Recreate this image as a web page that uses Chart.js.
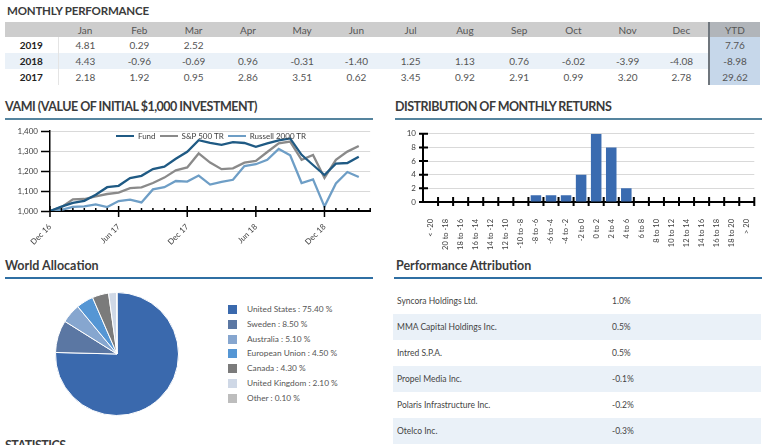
<!DOCTYPE html>
<html>
<head>
<meta charset="utf-8">
<script src="https://cdn.jsdelivr.net/npm/chart.js@4.4.1/dist/chart.umd.min.js"></script>
<style>
  body { margin: 0; width: 768px; height: 445px; overflow: hidden; background: #fff; position: relative; font-family: Lato, sans-serif; color: #444; }
  .title { position: absolute; font-weight: 700; font-size: 12.5px; line-height: 14px; color: #3b3b3b; white-space: nowrap; }
  .caps { letter-spacing: -0.5px; }
  .rule { position: absolute; height: 2px; }
  .box { position: absolute; }
  #perf { position: absolute; left: 5px; top: 22px; border-collapse: collapse; table-layout: fixed; width: 755px; font-size: 10px; }
  #perf td, #perf th { padding: 0; text-align: center; font-weight: 400; color: #555; }
  #perf th { height: 15px; background: #cdcdcd; }
  #perf td { height: 16px; }
  #perf td.yr { font-weight: 700; color: #222; border-right: 1px solid #e4e4e4; }
  #perf tr.alt td { background: #eaf1f8; }
  #perf .ytd { background: #c6d7ea !important; border-left: 2px solid #6f767d; }
  #perf th.ytd { background: #b1b5ba !important; }
  #vamiLegend { position: absolute; left: 50px; top: 131px; width: 322px; height: 10px; display: flex; justify-content: center; font-size: 8px; line-height: 10px; color: #404040; }
  #vamiLegend div { display: flex; align-items: center; margin: 0 2px; white-space: nowrap; }
  #vamiLegend i { display: inline-block; width: 18px; height: 2.5px; margin-right: 4px; }
  .leg { position: absolute; left: 228px; font-size: 8.3px; color: #555; white-space: nowrap; }
  .leg i { position: absolute; left: 0; top: 1px; width: 9px; height: 9px; }
  .leg span { position: absolute; left: 19px; top: 0; line-height: 11px; }
  .attr { position: absolute; left: 393px; width: 368px; height: 26px; font-size: 8.5px; color: #444; line-height: 26px; }
  .attr span { position: absolute; }
</style>
</head>
<body>

<div class="title" style="left:7px;top:4px;font-size:11.5px;letter-spacing:-0.2px">MONTHLY PERFORMANCE</div>
<table id="perf"></table>

<div class="title caps" style="left:5px;top:100px">VAMI (VALUE OF INITIAL $1,000 INVESTMENT)</div>
<div class="rule" style="left:5px;top:118px;width:368px;background:#55849e"></div>
<div class="box" style="left:0;top:122px"><canvas id="vami" width="380" height="135"></canvas></div>
<div id="vamiLegend"></div>

<div class="title caps" style="left:395px;top:100px">DISTRIBUTION OF MONTHLY RETURNS</div>
<div class="rule" style="left:395px;top:118px;width:367px;background:#55849e"></div>
<div class="box" style="left:390px;top:122px"><canvas id="dist" width="375" height="128"></canvas></div>

<div class="title" style="left:5px;top:259px">World Allocation</div>
<div class="rule" style="left:5px;top:277px;width:368px;background:#2f6fa3"></div>
<div class="box" style="left:55px;top:292px"><canvas id="alloc" width="124" height="124"></canvas></div>
<div id="allocLegend"></div>

<div class="title" style="left:396px;top:259px">Performance Attribution</div>
<div class="rule" style="left:394px;top:277px;width:368px;background:#2f6fa3"></div>
<div id="attrib"></div>

<div class="title caps" style="left:5px;top:439px">STATISTICS</div>

<script>
// monthly returns table
const months = ['Jan', 'Feb', 'Mar', 'Apr', 'May', 'Jun', 'Jul', 'Aug', 'Sep', 'Oct', 'Nov', 'Dec'];
const years = ['2019', '2018', '2017'];
const ret2019 = [4.81, 0.29, 2.52];
const ret2018 = [4.43, -0.96, -0.69, 0.96, -0.31, -1.40, 1.25, 1.13, 0.76, -6.02, -3.99, -4.08];
const ret2017 = [2.18, 1.92, 0.95, 2.86, 3.51, 0.62, 3.45, 0.92, 2.91, 0.99, 3.20, 2.78];
const ytd = [7.76, -8.98, 29.62];

// VAMI, Dec 16 .. Mar 19 (axis runs one month further)
const vamiMonths = ['Dec 16', 'Jan 17', 'Feb 17', 'Mar 17', 'Apr 17', 'May 17', 'Jun 17', 'Jul 17', 'Aug 17', 'Sep 17', 'Oct 17', 'Nov 17',
    'Dec 17', 'Jan 18', 'Feb 18', 'Mar 18', 'Apr 18', 'May 18', 'Jun 18', 'Jul 18', 'Aug 18', 'Sep 18', 'Oct 18', 'Nov 18',
    'Dec 18', 'Jan 19', 'Feb 19', 'Mar 19', 'Apr 19'];
const vamiSeries = ['Fund', 'S&P 500 TR', 'Russell 2000 TR'];
const vamiColors = ['#1f5a84', '#8a8a8a', '#6e9ec6'];
const fund = [1000, 1022, 1041, 1051, 1081, 1119, 1126, 1165, 1176, 1210, 1222, 1261, 1296,
    1354, 1341, 1331, 1344, 1340, 1321, 1338, 1353, 1363, 1281, 1230, 1180, 1237, 1240, 1271];
const sp500 = [1000, 1019, 1058, 1060, 1073, 1085, 1092, 1114, 1118, 1140, 1167, 1203, 1218,
    1288, 1242, 1209, 1213, 1242, 1251, 1295, 1338, 1347, 1256, 1280, 1166, 1256, 1297, 1325];
const russell = [1000, 1006, 1021, 1023, 1033, 1020, 1050, 1057, 1043, 1108, 1119, 1150, 1147,
    1177, 1132, 1146, 1156, 1225, 1234, 1256, 1310, 1279, 1140, 1158, 1022, 1138, 1195, 1170];

// distribution of monthly returns
const bins = ['< -20', '-20 to -18', '-18 to -16', '-16 to -14', '-14 to -12', '-12 to -10', '-10 to -8', '-8 to -6',
    '-6 to -4', '-4 to -2', '-2 to 0', '0 to 2', '2 to 4', '4 to 6', '6 to 8', '8 to 10', '10 to 12', '12 to 14',
    '14 to 16', '16 to 18', '18 to 20', '> 20'];
const binCounts = [0, 0, 0, 0, 0, 0, 0, 1, 1, 1, 4, 10, 8, 2, 0, 0, 0, 0, 0, 0, 0, 0];

// world allocation
const countries = ['United States', 'Sweden', 'Australia', 'European Union', 'Canada', 'United Kingdom', 'Other'];
const allocation = [75.40, 8.50, 5.10, 4.50, 4.30, 2.10, 0.10];
const allocColors = ['#3a69ad', '#5b77a3', '#86a6cf', '#5596d4', '#7b7b7b', '#cfd8e6', '#bdbdbd'];

// performance attribution
const holdings = ['Syncora Holdings Ltd.', 'MMA Capital Holdings Inc.', 'Intred S.P.A.', 'Propel Media Inc.',
    'Polaris Infrastructure Inc.', 'Otelco Inc.'];
const contribution = [1.0, 0.5, 0.5, -0.1, -0.2, -0.3];

Chart.defaults.font.family = 'Lato, sans-serif';
Chart.defaults.color = '#404040';
Chart.defaults.animation = false;

// ---- tables
const perf = document.getElementById( 'perf' );
let html = '<tr><th></th>' + months.map( m => '<th>' + m + '</th>' ).join( '' ) + '<th class="ytd">YTD</th></tr>';
[ ret2019, ret2018, ret2017 ].forEach( ( row, r ) => {
    html += '<tr' + ( r === 1 ? ' class="alt"' : '' ) + '><td class="yr">' + years[ r ] + '</td>';
    months.forEach( ( m, i ) => { html += '<td>' + ( row[ i ] !== undefined ? row[ i ].toFixed( 2 ) : '' ) + '</td>'; } );
    html += '<td class="ytd">' + ytd[ r ].toFixed( 2 ) + '</td></tr>';
} );
perf.innerHTML = '<colgroup><col style="width:53px">' + months.map( () => '<col style="width:54.25px">' ).join( '' ) + '<col style="width:51px"></colgroup>' + html;

const attrib = document.getElementById( 'attrib' );
holdings.forEach( ( h, i ) => {
    const d = document.createElement( 'div' );
    d.className = 'attr';
    d.style.top = ( 288 + i * 26 ) + 'px';
    if ( i % 2 ) d.style.background = '#eaf1f8';
    d.innerHTML = '<span style="left:4px">' + h + '</span><span style="left:219px">' + contribution[ i ].toFixed( 1 ) + '%</span>';
    attrib.append( d );
} );

const legend = document.getElementById( 'allocLegend' );
countries.forEach( ( c, i ) => {
    const d = document.createElement( 'div' );
    d.className = 'leg';
    d.style.top = ( 304 + i * 14.8 ) + 'px';
    d.innerHTML = '<i style="background:' + allocColors[ i ] + '"></i><span>' + c + ' : ' + allocation[ i ].toFixed( 2 ) + ' %</span>';
    legend.append( d );
} );

document.getElementById( 'vamiLegend' ).innerHTML = vamiSeries
    .map( ( s, i ) => '<div><i style="background:' + vamiColors[ i ] + '"></i>' + s.replace( '&', '&amp;' ) + '</div>' ).join( '' );

// ---- VAMI line chart
const vamiTicks = {
    id: 'vamiTicks',
    afterDraw( chart ) {
        const { ctx, scales: { x, y } } = chart;
        ctx.save();
        ctx.strokeStyle = '#000';
        ctx.lineWidth = 1.5;
        ctx.beginPath();
        vamiMonths.forEach( ( m, i ) => {
            const px = x.getPixelForValue( i );
            const major = i % 6 === 0;
            ctx.moveTo( px, y.bottom - ( major ? 5 : 3 ) );
            ctx.lineTo( px, y.bottom + ( major ? 6 : 0 ) );
        } );
        ctx.stroke();
        ctx.restore();
    }
};

const line = ( i, data ) => ( {
    label: vamiSeries[ i ], data, borderColor: vamiColors[ i ], backgroundColor: vamiColors[ i ],
    borderWidth: 2.3, pointRadius: 0, tension: 0, fill: false
} );

new Chart( document.getElementById( 'vami' ), {
    type: 'line',
    data: {
        labels: vamiMonths,
        datasets: [ line( 0, fund ), line( 1, sp500 ), line( 2, russell ) ]
    },
    options: {
        responsive: false,
        events: [],
        layout: { padding: { top: 9, right: 8, bottom: 0, left: 0 } },
        plugins: { tooltip: { enabled: false }, legend: { display: false } },
        scales: {
            x: {
                offset: false,
                afterFit: s => { s.height = 46; },
                grid: { display: false },
                border: { color: '#000', width: 2 },
                ticks: { autoSkip: false, maxRotation: 45, minRotation: 45, padding: 3, font: { size: 8 },
                    callback: ( v, i ) => i % 6 === 0 ? vamiMonths[ i ] : '' }
            },
            y: {
                min: 1000, max: 1400,
                afterFit: s => { s.width = 50; },
                grid: { color: '#d9d9d9', tickColor: '#000', tickLength: 9, tickWidth: 1.5 },
                border: { color: '#000', width: 1.5 },
                ticks: { stepSize: 100, padding: 3, font: { size: 8 }, callback: v => v.toLocaleString( 'en-US' ) }
            }
        }
    },
    plugins: [ vamiTicks ]
} );

// ---- distribution bar chart
const distTicks = {
    id: 'distTicks',
    afterDraw( chart ) {
        const { ctx, scales: { x, y } } = chart;
        ctx.save();
        ctx.strokeStyle = '#000';
        ctx.lineWidth = 2;
        ctx.beginPath();
        for ( let i = 1; i <= bins.length; i++ ) {
            const px = x.getPixelForValue( i - 0.5 );
            ctx.moveTo( px, y.bottom - 5 );
            ctx.lineTo( px, y.bottom + 4 );
        }
        y.ticks.forEach( t => {
            const py = y.getPixelForValue( t.value );
            ctx.moveTo( x.left - 4, py );
            ctx.lineTo( x.left + 5, py );
        } );
        ctx.stroke();
        ctx.restore();
    }
};

new Chart( document.getElementById( 'dist' ), {
    type: 'bar',
    data: {
        labels: bins,
        datasets: [ { data: binCounts, backgroundColor: '#3a6bb0', categoryPercentage: 1, barPercentage: 0.7 } ]
    },
    options: {
        responsive: false,
        events: [],
        layout: { padding: { top: 9, right: 10, bottom: 0, left: 0 } },
        plugins: { legend: { display: false }, tooltip: { enabled: false } },
        scales: {
            x: {
                afterFit: s => { s.height = 48; },
                grid: { display: false },
                border: { color: '#000', width: 2 },
                ticks: { autoSkip: false, maxRotation: 90, minRotation: 90, padding: 9, font: { size: 7.5 } }
            },
            y: {
                min: 0, max: 10,
                afterFit: s => { s.width = 33; },
                grid: { color: '#d9d9d9', drawTicks: false },
                border: { color: '#000', width: 2 },
                ticks: { stepSize: 2, padding: 7, font: { size: 8 } }
            }
        }
    },
    plugins: [ distTicks ]
} );

// ---- world allocation pie
new Chart( document.getElementById( 'alloc' ), {
    type: 'pie',
    data: {
        labels: countries,
        datasets: [ { data: allocation, backgroundColor: allocColors, borderColor: '#fff', borderWidth: 1 } ]
    },
    options: {
        responsive: false,
        events: [],
        plugins: { legend: { display: false }, tooltip: { enabled: false } }
    }
} );
</script>
</body>
</html>
